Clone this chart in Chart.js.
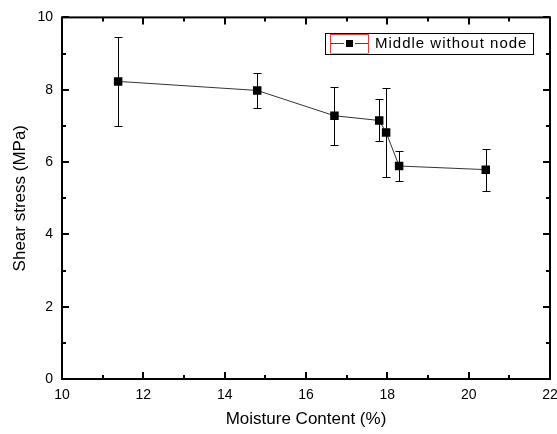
<!DOCTYPE html>
<html lang="en">
<head>
  <meta charset="UTF-8" />
  <title>Shear stress vs Moisture Content</title>
  <script src="https://cdn.jsdelivr.net/npm/chart.js"></script>
  <style>
    html, body {
      margin: 0;
      padding: 0;
      background: #ffffff;
      overflow: hidden;
    }
    .wrap {
      position: relative;
      width: 600px;
      height: 434px;
    }
  </style>
</head>
<body>
  <div class="wrap">
    <canvas id="shearChart" width="600" height="434"></canvas>
  </div>

  <script>
    // values
    const moisture = [11.38, 14.80, 16.70, 17.80, 17.97, 18.29, 20.42];
    const shearStress = [8.23, 7.98, 7.28, 7.15, 6.82, 5.89, 5.79];
    const shearError = [1.24, 0.49, 0.80, 0.58, 1.23, 0.41, 0.58];

    const xMajorTicks = [10, 12, 14, 16, 18, 20, 22];
    const xMinorTicks = [11, 13, 15, 17, 19, 21];
    const yMajorTicks = [0, 2, 4, 6, 8, 10];
    const yMinorTicks = [1, 3, 5, 7, 9];

    const seriesName = "Middle without node";

    const points = moisture.map((m, i) => ({ x: m, y: shearStress[i] }));

    const FONT = "Arial, 'Liberation Sans', sans-serif";

    // frame with inward ticks on all four sides
    const framePlugin = {
      id: "frame",
      afterDraw(chart) {
        const { ctx, chartArea: a, scales: { x, y } } = chart;
        ctx.save();
        ctx.strokeStyle = "#000";
        ctx.lineWidth = 2;
        ctx.strokeRect(a.left, a.top, a.right - a.left, a.bottom - a.top);

        const tickX = (list, len) => {
          ctx.beginPath();
          for (const v of list) {
            const px = Math.round(x.getPixelForValue(v));
            ctx.moveTo(px, a.bottom); ctx.lineTo(px, a.bottom - len);
            ctx.moveTo(px, a.top); ctx.lineTo(px, a.top + len);
          }
          ctx.stroke();
        };
        const tickY = (list, len) => {
          ctx.beginPath();
          for (const v of list) {
            const py = Math.round(y.getPixelForValue(v));
            ctx.moveTo(a.left, py); ctx.lineTo(a.left + len, py);
            ctx.moveTo(a.right, py); ctx.lineTo(a.right - len, py);
          }
          ctx.stroke();
        };
        tickX(xMajorTicks, 7);
        tickX(xMinorTicks, 4);
        tickY(yMajorTicks, 7);
        tickY(yMinorTicks, 4);
        ctx.restore();
      }
    };

    // vertical error bars with caps
    const errorBarPlugin = {
      id: "errorBars",
      beforeDatasetsDraw(chart) {
        const { ctx, scales: { x, y } } = chart;
        ctx.save();
        ctx.strokeStyle = "#000";
        ctx.lineWidth = 1;
        ctx.beginPath();
        moisture.forEach((m, i) => {
          const px = Math.round(x.getPixelForValue(m)) + 0.5;
          const top = Math.round(y.getPixelForValue(shearStress[i] + shearError[i])) + 0.5;
          const bot = Math.round(y.getPixelForValue(shearStress[i] - shearError[i])) + 0.5;
          ctx.moveTo(px, top); ctx.lineTo(px, bot);
          ctx.moveTo(px - 4, top); ctx.lineTo(px + 4, top);
          ctx.moveTo(px - 4, bot); ctx.lineTo(px + 4, bot);
        });
        ctx.stroke();
        ctx.restore();
      }
    };

    // legend box inside the plot, top right
    const legendPlugin = {
      id: "boxLegend",
      afterDraw(chart) {
        const { ctx } = chart;
        const bx = 325, by = 33, bw = 208, bh = 21;
        ctx.save();
        ctx.fillStyle = "#fff";
        ctx.fillRect(bx, by, bw, bh);
        ctx.strokeStyle = "#000";
        ctx.lineWidth = 1;
        ctx.strokeRect(bx + 0.5, by + 0.5, bw, bh);

        // sample: red selection box with cyan bottom edge
        ctx.strokeStyle = "#ff3030";
        ctx.strokeRect(330.5, 34.5, 38, 19);
        ctx.strokeStyle = "#40e0f0";
        ctx.beginPath();
        ctx.moveTo(330, 53.5); ctx.lineTo(369, 53.5);
        ctx.stroke();

        ctx.strokeStyle = "#444";
        ctx.beginPath();
        ctx.moveTo(331, 43.5); ctx.lineTo(344, 43.5);
        ctx.moveTo(355, 43.5); ctx.lineTo(368, 43.5);
        ctx.stroke();
        ctx.fillStyle = "#000";
        ctx.fillRect(346, 40, 7, 7);

        ctx.fillStyle = "#000";
        ctx.font = "15px " + FONT;
        ctx.letterSpacing = "1px";
        ctx.textBaseline = "middle";
        ctx.fillText(chart.data.datasets[0].label, 375, 44);
        ctx.restore();
      }
    };

    const ctx = document.getElementById("shearChart").getContext("2d");
    new Chart(ctx, {
      type: "scatter",
      data: {
        datasets: [{
          label: seriesName,
          data: points,
          showLine: true,
          borderColor: "#333",
          borderWidth: 1,
          backgroundColor: "#000",
          pointStyle: "rect",
          pointRadius: 6,
          pointBorderWidth: 0,
          pointBackgroundColor: "#000"
        }]
      },
      options: {
        responsive: false,
        animation: false,
        layout: { padding: { top: 16, right: 50, left: 0, bottom: 0 } },
        plugins: {
          legend: { display: false },
          tooltip: { enabled: false }
        },
        scales: {
          x: {
            type: "linear",
            min: 10,
            max: 22,
            afterFit: s => { s.height = 55; },
            afterBuildTicks: s => { s.ticks = xMajorTicks.map(v => ({ value: v })); },
            grid: { display: false, drawTicks: false, tickLength: 0 },
            border: { display: false },
            ticks: {
              color: "#000",
              padding: 8,
              maxRotation: 0,
              font: { family: FONT, size: 14 }
            },
            title: {
              display: true,
              text: "Moisture Content (%)",
              color: "#000",
              padding: { top: 0, bottom: 4 },
              font: { family: FONT, size: 17 }
            }
          },
          y: {
            type: "linear",
            min: 0,
            max: 10,
            afterFit: s => { s.width = 62; },
            afterBuildTicks: s => { s.ticks = yMajorTicks.map(v => ({ value: v })); },
            grid: { display: false, drawTicks: false, tickLength: 0 },
            border: { display: false },
            ticks: {
              color: "#000",
              padding: 9,
              font: { family: FONT, size: 14 }
            },
            title: {
              display: true,
              text: "Shear stress (MPa)",
              color: "#000",
              padding: { top: 10, bottom: 0 },
              font: { family: FONT, size: 17 }
            }
          }
        }
      },
      plugins: [errorBarPlugin, framePlugin, legendPlugin]
    });
  </script>
</body>
</html>
